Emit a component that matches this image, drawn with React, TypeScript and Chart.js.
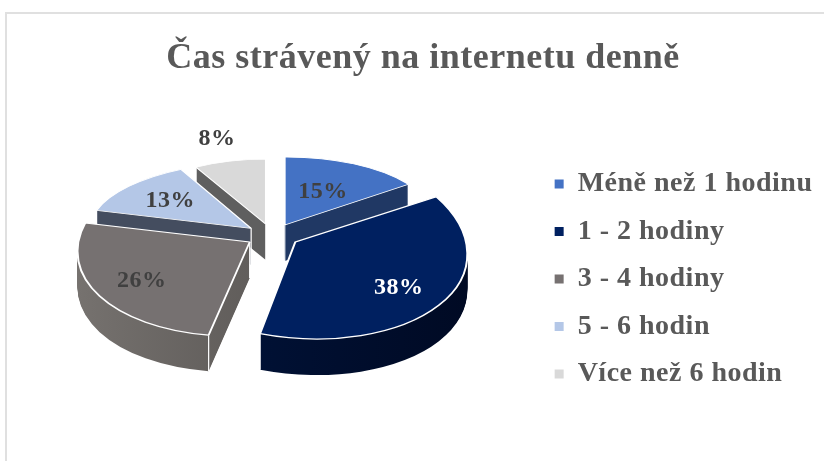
import React, { useEffect, useRef } from "react";
import { Chart, registerables } from "chart.js";

Chart.register(...registerables);

const titleText = "Čas strávený na internetu denně";
const categories = ["Méně než 1 hodinu", "1 - 2 hodiny", "3 - 4 hodiny", "5 - 6 hodin", "Více než 6 hodin"];
const shares = [15, 38, 26, 13, 8];
const topColors = ["#4472c4", "#002060", "#767171", "#b4c7e7", "#d9d9d9"];
const labelColors = ["#404040", "#ffffff", "#404040", "#404040", "#404040"];

// look of the 3D projection
const RADIUS = 174;
const CENTER_X = 272.5;
const CENTER_Y = 235.6;
const EXPLODE = 27;
const TILT = 0.44;
const DEPTH = 36;
const drawOrder = [4, 0, 3, 2, 1];
const sliceScale = [
  [153, 0, -1, 68],
  [172, -3, 14, 96],
  [172, -9, -4.5, 94],
  [162, -9, 1.5, 66.5],
  [145, 0, 0, 65],
];
const labelReach = [0.55, 0.72, 0.72, 0.66, 1.35];
const sideStops: string[][] = [
  ["#203864", "#203864"],
  ["#00153f", "#000a24"],
  ["#76726f", "#4c4947"],
  ["#444d5f", "#444d5f"],
  ["#5f5f5f", "#5f5f5f"],
];

const pie3d = {
  id: "pie3d",
  beforeDraw(chart: any) {
    (chart.ctx as any).letterSpacing = "0.5px";
  },
  beforeDatasetDraw(chart: any) {
    const ctx: CanvasRenderingContext2D = chart.ctx;
    const arcs = chart.getDatasetMeta(0).data;
    const place = (i: number) => {
      const arc = arcs[i];
      const mid = (arc.startAngle + arc.endAngle) / 2;
      return {
        x: CENTER_X + Math.cos(mid) * EXPLODE,
        y: CENTER_Y + Math.sin(mid) * EXPLODE * TILT,
      };
    };
    const project = (i: number, angle: number, reach: number) => {
      const p = place(i);
      const [a, b, c, d] = sliceScale[i];
      const u = Math.cos(angle) * reach;
      const v = Math.sin(angle) * reach;
      return { x: p.x + a * u + b * v, y: p.y + c * u + d * v };
    };
    const drawSlice = (i: number, dy: number, options: any) => {
      const arc = arcs[i];
      const p = place(i);
      const [a, b, c, d] = sliceScale[i];
      ctx.save();
      ctx.translate(0, dy);
      ctx.transform(a / RADIUS, c / RADIUS, b / RADIUS, d / RADIUS, p.x, p.y);
      ctx.translate(-arc.x, -arc.y);
      const saved = arc.options;
      arc.options = Object.assign(Object.create(saved), options);
      arc.draw(ctx);
      arc.options = saved;
      ctx.restore();
    };
    for (const i of drawOrder) {
      const arc = arcs[i];
      const gradient = ctx.createLinearGradient(arc.x - RADIUS, 0, arc.x + RADIUS, 0);
      gradient.addColorStop(0, sideStops[i][0]);
      gradient.addColorStop(1, sideStops[i][1]);
      for (let dy = DEPTH; dy >= 1; dy -= 1) {
        drawSlice(i, dy, { backgroundColor: gradient, borderWidth: 0 });
      }
      ctx.save();
      ctx.strokeStyle = "#ffffff";
      ctx.lineWidth = 1.2;
      const corners = [project(i, arc.startAngle, 1), project(i, arc.endAngle, 1), place(i)];
      for (const pt of corners) {
        ctx.beginPath();
        ctx.moveTo(pt.x, pt.y);
        ctx.lineTo(pt.x, pt.y + DEPTH);
        ctx.stroke();
      }
      ctx.restore();
      drawSlice(i, 0, { borderWidth: 2, borderColor: "#ffffff" });
    }
    ctx.save();
    ctx.textAlign = "center";
    ctx.textBaseline = "middle";
    ctx.font = "bold 24px 'Liberation Serif'";
    shares.forEach((value, i) => {
      const arc = arcs[i];
      const pt = project(i, (arc.startAngle + arc.endAngle) / 2, labelReach[i]);
      ctx.fillStyle = labelColors[i];
      ctx.fillText(`${value}%`, pt.x, pt.y);
    });
    ctx.restore();
    return false;
  },
};

export default function App() {
  const ref = useRef<HTMLCanvasElement>(null);
  useEffect(() => {
    document.body.style.margin = "0";
    document.body.style.background = "#ffffff";
    const chart = new Chart(ref.current!, {
      type: "pie",
      data: {
        labels: categories,
        datasets: [{ data: shares, backgroundColor: topColors, borderWidth: 0 }],
      },
      options: {
        animation: false,
        responsive: false,
        radius: RADIUS,
        layout: { padding: { left: 32, right: 10, top: 37, bottom: 41 } },
        plugins: {
          title: {
            display: true,
            text: titleText,
            color: "#595959",
            font: { family: "'Liberation Serif'", size: 36, weight: "bold" },
            padding: { top: 0, bottom: 58 },
          },
          legend: {
            position: "right",
            align: "center",
            fullSize: false,
            labels: {
              color: "#595959",
              font: { family: "'Liberation Serif'", size: 28, weight: "bold" },
              boxWidth: 9,
              boxHeight: 9,
              padding: 19.5,
            },
          },
          tooltip: { enabled: false },
        },
      } as any,
      plugins: [pie3d as any],
    });
    return () => chart.destroy();
  }, []);
  return (
    <div style={{ position: "relative", width: 824, height: 461, overflow: "hidden", background: "#fff" }}>
      <div
        style={{
          position: "absolute",
          left: 5,
          top: 12,
          width: 819,
          height: 449,
          boxSizing: "border-box",
          borderLeft: "2px solid #e0e0e0",
          borderTop: "2px solid #e0e0e0",
        }}
      />
      <canvas ref={ref} width={824} height={461} style={{ position: "absolute", left: 0, top: 0, display: "block" }} />
    </div>
  );
}
